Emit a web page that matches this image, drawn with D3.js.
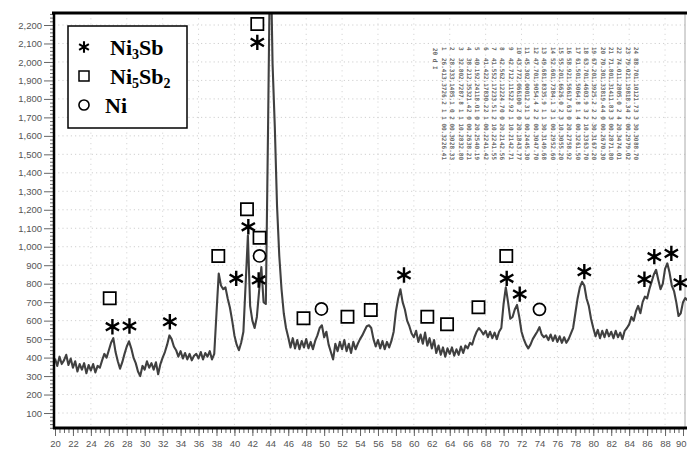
<!DOCTYPE html>
<html>
<head>
<meta charset="utf-8">
<script src="https://cdn.jsdelivr.net/npm/d3@7"></script>
<style>
  body { margin: 0; background: #fff; }
  svg { display: block; }
  .axis text { font-family: "Liberation Sans", Arial, sans-serif; font-size: 9.5px; fill: #555; }
  .axis line { stroke: #666; }
  .legend-text { font-family: "Liberation Serif", "Times New Roman", serif; font-weight: bold; font-size: 22px; fill: #000; }
  .peak-table text { font-family: "DejaVu Sans Mono", monospace; font-size: 6px; font-weight: bold; fill: #6a6a6a; }
</style>
</head>
<body>
<svg width="687" height="452"></svg>
<script>
// scan: 2θ from 20° upward in steps of 0.25°
const scanStart = 20;
const scanStep = 0.25;
const counts = [
  395, 355, 405, 365,   385, 415, 360, 395,   345, 380, 325, 365,   335, 370, 315, 360, // 20-23
  330, 365, 320, 355,   345, 385, 420, 400,   440, 480, 505, 430,   380, 340, 375, 420, // 24-27
  460, 488, 450, 400,   370, 325, 300, 355,   335, 380, 345, 370,   335, 375, 310, 365, // 28-31
  400, 430, 470, 520,   500, 460, 440, 405,   435, 395, 425, 390,   420, 385, 410, 420, // 32-35
  395, 430, 390, 425,   405, 435, 390, 420,   640, 855, 790, 770,   780, 720, 670, 600, // 36-39
  520, 470, 440, 480,   540, 800, 1060, 680,  600, 560, 620, 760,   890, 700, 690, 1650, // 40-43
  2700, 1990, 1650, 1220, 950, 770, 640, 560, 510, 455, 505, 450,   495, 445, 490, 455, // 44-47
  500, 450, 485, 445,   490, 520, 560, 575,   510, 540, 470, 430,   390, 475, 435, 485, // 48-51
  445, 495, 435, 475,   425, 485, 445, 475,   500, 520, 545, 570,   575, 560, 500, 460, // 52-55
  495, 450, 490, 445,   485, 455, 490, 540,   650, 720, 770, 700,   660, 600, 570, 530, // 56-59
  510, 545, 485, 525,   475, 535, 465, 505,   450, 495, 425, 465,   415, 455, 405, 450, // 60-63
  420, 455, 410, 445,   415, 460, 425, 465,   450, 480, 470, 510,   540, 560, 545, 525, // 64-67
  545, 510, 540, 505,   535, 500, 540, 560,   690, 780, 700, 610,   620, 660, 685, 620, // 68-71
  540, 500, 470, 450,   470, 500, 520, 540,   565, 525, 510, 520,   495, 525, 490, 520, // 72-75
  485, 515, 480, 510,   480, 500, 530, 560,   640, 720, 780, 810,   790, 720, 680, 610, // 76-79
  560, 515, 550, 505,   545, 510, 550, 515,   540, 505, 545, 510,   535, 500, 545, 560, // 80-83
  580, 620, 600, 650,   680, 640, 700, 730,   720, 770, 810, 850,   875, 820, 770, 800, // 84-87
  880, 910, 860, 790,   760, 700, 625, 640,   700, 722, 710                             // 88-90.5
];

const xTicks = d3.range(20, 91, 2);
const yTicks = d3.range(100, 2201, 100);

// peak labels [2θ, height of the symbol]
const ni3sbPeaks = [[26.4, 567], [28.3, 571], [32.8, 594], [40.2, 829], [41.55, 1108], [42.55, 2106],
  [42.7, 820], [58.9, 847], [70.35, 829], [71.8, 744], [79.0, 865], [85.7, 824], [86.8, 946], [88.7, 964], [89.7, 805]];
const ni5sb2Peaks = [[26.1, 721], [38.2, 950], [41.4, 1203], [42.55, 2205], [42.8, 1049], [47.7, 613],
  [52.6, 621], [55.2, 658], [61.5, 621], [63.7, 580], [67.2, 672], [70.3, 950]];
const niPeaks = [[42.8, 950], [49.7, 663], [74.0, 661]];

// the small peak list pasted top right (barely legible in the original)
const tableAngle = ['26.41', '28.33', '32.80', '38.21', '40.19', '41.42', '41.55', '42.56', '42.71', '43.77', '45.30', '47.70',
  '49.68', '52.60', '55.20', '58.92', '61.50', '63.70', '67.20', '70.30', '71.80', '74.01', '79.02', '88.70'];
const tableD = ['3.372', '3.148', '2.728', '2.353', '2.241', '2.178', '2.172', '2.122', '2.115', '2.066', '2.000', '1.905',
  '1.833', '1.738', '1.662', '1.566', '1.506', '1.460', '1.392', '1.338', '1.314', '1.280', '1.198', '1.101'];
const tableInt = ['6.2', '5.1', '7.8', '21.4', '18.0', '30.2', '33.5', '24.7', '22.9', '100', '12.3', '4.4',
  '5.9', '4.1', '6.0', '17.6', '4.8', '3.9', '5.2', '19.4', '11.8', '5.0', '18.3', '21.7'];
const tableHkl = ['1 1 0', '0 2 0', '1 1 1', '2 0 0', '1 0 2', '2 1 0', '1 2 1', '0 0 2', '2 1 1', '2 0 2', '1 3 0', '2 2 0',
  '1 1 3', '3 1 0', '2 3 1', '3 0 2', '1 4 0', '3 2 1', '2 2 3', '4 0 0', '3 3 0', '2 4 2', '4 2 0', '3 3 3'];
const tableFwhm = ['0.32', '0.30', '0.28', '0.26', '0.25', '0.22', '0.22', '0.21', '0.21', '0.18', '0.24', '0.30',
  '0.31', '0.29', '0.30', '0.27', '0.32', '0.33', '0.31', '0.26', '0.28', '0.34', '0.29', '0.30'];

const svg = d3.select('svg');

const x = d3.scaleLinear().domain([20, 90]).range([55, 683]);
const y = d3.scaleLinear().domain([0, 2200]).range([431.5, 25]);

const plotTop = 13;
const plotBottom = 428;
const plotLeft = 54;
const plotRight = 687;

// dotted grid
svg.append('g')
  .selectAll('line')
  .data(yTicks)
  .enter()
  .append('line')
  .attr('x1', plotLeft)
  .attr('x2', plotRight)
  .attr('y1', (d) => y(d))
  .attr('y2', (d) => y(d))
  .attr('stroke', '#c4c4c4')
  .attr('stroke-width', 0.8)
  .attr('stroke-dasharray', '1.2,3');

svg.append('g')
  .selectAll('line')
  .data(d3.range(24, 91, 4))
  .enter()
  .append('line')
  .attr('x1', (d) => x(d))
  .attr('x2', (d) => x(d))
  .attr('y1', plotTop)
  .attr('y2', plotBottom)
  .attr('stroke', '#cdcdcd')
  .attr('stroke-width', 0.8)
  .attr('stroke-dasharray', '1.2,4');

svg.append('line')
  .attr('x1', 685).attr('x2', 685)
  .attr('y1', plotTop).attr('y2', plotBottom)
  .attr('stroke', '#aaa').attr('stroke-width', 1);

// peak list picture
const table = svg.append('g').attr('class', 'peak-table');
const colX = d3.scalePoint().domain(d3.range(tableAngle.length)).range([444, 636]);
const tableBands = [
  { top: 47, values: tableAngle.map((d, i) => String(i + 1)) },
  { top: 58, values: tableAngle },
  { top: 76, values: tableD },
  { top: 94, values: tableInt },
  { top: 109, values: tableHkl },
  { top: 127, values: tableFwhm },
  { top: 142, values: tableAngle }
];
tableBands.forEach((band) => {
  table.selectAll(null)
    .data(band.values)
    .enter()
    .append('text')
    .attr('transform', (d, i) => `translate(${colX(i) - 2},${band.top}) rotate(90)`)
    .text((d) => d);
});
table.append('text')
  .attr('transform', 'translate(433,48) rotate(90)')
  .text('2θ  d  I');

// scan curve
svg.append('clipPath')
  .attr('id', 'plot-clip')
  .append('rect')
  .attr('x', plotLeft)
  .attr('y', plotTop)
  .attr('width', plotRight - plotLeft)
  .attr('height', plotBottom - plotTop);

const line = d3.line()
  .x((d, i) => x(scanStart + i * scanStep))
  .y((d) => y(d));

svg.append('path')
  .datum(counts)
  .attr('clip-path', 'url(#plot-clip)')
  .attr('fill', 'none')
  .attr('stroke', '#404040')
  .attr('stroke-width', 2.1)
  .attr('stroke-linejoin', 'round')
  .attr('d', line);

// axes
const yAxis = svg.append('g')
  .attr('class', 'axis')
  .attr('transform', `translate(50,0)`)
  .call(d3.axisLeft(y).tickValues(yTicks).tickSize(6).tickPadding(2).tickFormat(d3.format(',')));
yAxis.select('.domain').remove();

const yMinor = svg.append('g')
  .attr('class', 'axis')
  .attr('transform', `translate(${plotLeft},0)`)
  .call(d3.axisLeft(y).tickValues(d3.range(20, 2261, 20)).tickSize(4).tickFormat(''));
yMinor.select('.domain').remove();

const xAxis = svg.append('g')
  .attr('class', 'axis')
  .attr('transform', `translate(0,${plotBottom + 1})`)
  .call(d3.axisBottom(x).tickValues(xTicks).tickSize(7).tickPadding(4).tickFormat(d3.format('d')));
xAxis.select('.domain').remove();
xAxis.selectAll('text').attr('font-size', '10px');
// last label sits against the page edge
xAxis.selectAll('.tick')
  .filter((d) => d === 90)
  .select('text')
  .attr('text-anchor', 'end')
  .attr('dx', 3);

const xMinor = svg.append('g')
  .attr('class', 'axis')
  .attr('transform', `translate(0,${plotBottom + 1})`)
  .call(d3.axisBottom(x).tickValues(d3.range(20, 90.6, 0.5)).tickSize(4).tickFormat(''));
xMinor.select('.domain').remove();

// frame
svg.append('line')
  .attr('x1', plotLeft - 2).attr('x2', plotRight)
  .attr('y1', plotTop).attr('y2', plotTop)
  .attr('stroke', '#000').attr('stroke-width', 3);
svg.append('line')
  .attr('x1', plotLeft).attr('x2', plotLeft)
  .attr('y1', plotTop).attr('y2', plotBottom + 1)
  .attr('stroke', '#000').attr('stroke-width', 2.5);
svg.append('line')
  .attr('x1', plotLeft - 1).attr('x2', plotRight)
  .attr('y1', plotBottom).attr('y2', plotBottom)
  .attr('stroke', '#000').attr('stroke-width', 3);

// phase symbols
const asterisk = d3.symbol().type(d3.symbolAsterisk);
const square = d3.symbol().type(d3.symbolSquare);
const circle = d3.symbol().type(d3.symbolCircle);

function drawMarks(data, sym, size, fill, width) {
  svg.append('g')
    .selectAll('path')
    .data(data)
    .enter()
    .append('path')
    .attr('transform', (d) => `translate(${x(d[0])},${y(d[1])})`)
    .attr('d', sym.size(size)())
    .attr('fill', fill)
    .attr('stroke', '#000')
    .attr('stroke-width', width);
}
drawMarks(ni3sbPeaks, asterisk, 165, 'none', 2.4);
drawMarks(ni5sb2Peaks, square, 150, '#fff', 1.7);
drawMarks(niPeaks, circle, 115, '#fff', 1.7);

// legend
const legend = svg.append('g').attr('transform', 'translate(68,26)');
legend.append('rect')
  .attr('width', 119)
  .attr('height', 102)
  .attr('fill', '#fff')
  .attr('stroke', '#000')
  .attr('stroke-width', 1.5);

const legendItems = [
  { sym: asterisk, size: 90, fill: 'none', width: 2.1, name: 'Ni', sub: '3', rest: 'Sb', sub2: '' },
  { sym: square, size: 100, fill: '#fff', width: 1.5, name: 'Ni', sub: '5', rest: 'Sb', sub2: '2' },
  { sym: circle, size: 80, fill: '#fff', width: 1.6, name: 'Ni', sub: '', rest: '', sub2: '' }
];
legendItems.forEach((item, i) => {
  const cy = 21 + i * 29;
  legend.append('path')
    .attr('transform', `translate(16,${cy})`)
    .attr('d', item.sym.size(item.size)())
    .attr('fill', item.fill)
    .attr('stroke', '#000')
    .attr('stroke-width', item.width);
  const t = legend.append('text')
    .attr('class', 'legend-text')
    .attr('x', i === 2 ? 37 : 42)
    .attr('y', cy + 8);
  t.append('tspan').text(item.name);
  if (item.sub) t.append('tspan').attr('font-size', '14px').attr('dy', 4).text(item.sub);
  if (item.rest) t.append('tspan').attr('dy', -4).text(item.rest);
  if (item.sub2) t.append('tspan').attr('font-size', '14px').attr('dy', 4).text(item.sub2);
});
</script>
</body>
</html>
